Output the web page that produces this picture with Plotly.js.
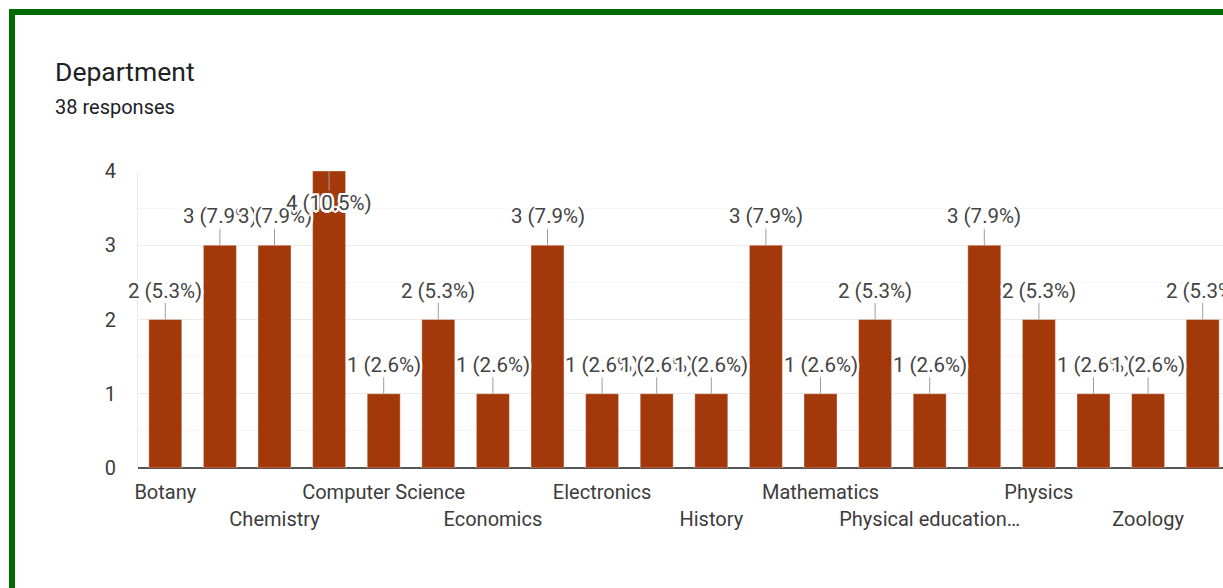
<!DOCTYPE html>
<html>
<head>
<meta charset="utf-8">
<script src="https://cdn.plot.ly/plotly-3.0.1.min.js"></script>
<style>
  html, body { margin: 0; padding: 0; background: #ffffff; overflow: hidden; width: 1223px; height: 588px; }
  #chart { position: absolute; left: 0; top: 0; }
  #frame { position: absolute; left: 9px; top: 9px; width: 1400px; height: 800px;
           border-left: 6px solid #006b00; border-top: 6px solid #006b00; pointer-events: none; z-index: 5; }
</style>
</head>
<body>
<div id="chart"></div>
<div id="frame"></div>
<script>
// ---- data ----
const chartTitle = "Department";
const responsesLabel = "38 responses";
// tick labels shown on the axis; "" = label not shown in the picture
const categories = ["Botany", "", "Chemistry", "", "Computer Science", "", "Economics", "",
                    "Electronics", "", "History", "", "Mathematics", "", "Physical education…", "",
                    "Physics", "", "Zoology", ""];
const counts = [2, 3, 3, 4, 1, 2, 1, 3, 1, 1, 1, 3, 1, 2, 1, 3, 2, 1, 1, 2];
const yTicks = [0, 1, 2, 3, 4];

// ---- build ----
const positions = counts.map((c, i) => i);
const total = counts.reduce((a, b) => a + b, 0);
const yMax = yTicks[yTicks.length - 1];

const W = 1240, H = 588;
const mL = 138, mT = 171, mB = 120, mR = 10;
const plotW = W - mL - mR, plotH = H - mT - mB;

const row1Vals = [], row1Text = [], row2Vals = [], row2Text = [];
let shown = 0;
categories.forEach((c, i) => {
  if (!c) return;
  if (shown % 2 === 0) { row1Vals.push(i); row1Text.push(c); }
  else { row2Vals.push(i); row2Text.push(c); }
  shown++;
});

const halo = "white 2.5px 0px 0px, white -2.5px 0px 0px, white 0px 2.5px 0px, white 0px -2.5px 0px, " +
             "white 1.8px 1.8px 0px, white -1.8px -1.8px 0px, white 1.8px -1.8px 0px, white -1.8px 1.8px 0px";

const fontFam = "Roboto, Arial, sans-serif";

const labelAnnotations = counts.map((v, i) => ({
  xref: "x", yref: "y", x: positions[i], y: v,
  text: v + " (" + (v / total * 100).toFixed(1) + "%)",
  showarrow: true, arrowhead: 0, arrowwidth: 1, arrowcolor: "#9e9e9e",
  standoff: 0, borderpad: 0, ax: 0, ay: v >= yMax ? 32 : -29,
  font: { family: fontFam, size: 20.5, color: "#444444", shadow: halo }
}));

const trace = {
  type: "bar",
  x: positions,
  y: counts,
  marker: { color: "#a3390b", line: { color: "rgba(255,255,255,0.35)", width: 1 } },
  hoverinfo: "skip"
};
const trace2 = { type: "bar", x: [], y: [], xaxis: "x2", yaxis: "y", showlegend: false, hoverinfo: "skip" };

const tickFont = { family: fontFam, size: 20, color: "#3c3c3c" };

const layout = {
  width: W, height: H,
  margin: { l: mL, r: mR, t: mT, b: mB, pad: 0 },
  paper_bgcolor: "rgba(0,0,0,0)", plot_bgcolor: "#ffffff",
  showlegend: false,
  bargap: 0.396,
  title: {
    text: chartTitle, xref: "container", yref: "container",
    x: 55 / W, xanchor: "left", y: 1 - 72 / H, yanchor: "middle",
    font: { family: fontFam, size: 26.5, color: "#202124" }
  },
  xaxis: {
    range: [-0.5, counts.length - 0.5], fixedrange: true,
    tickmode: "array", tickvals: row1Vals, ticktext: row1Text,
    ticks: "", showgrid: false, zeroline: false, showline: false,
    tickfont: tickFont, ticklabelstandoff: 10
  },
  xaxis2: {
    overlaying: "x", matches: "x", side: "bottom", anchor: "y",
    tickmode: "array", tickvals: row2Vals, ticktext: row2Text,
    ticks: "", showgrid: false, zeroline: false, showline: false,
    tickfont: tickFont, ticklabelstandoff: 37
  },
  yaxis: {
    range: [0, yMax], fixedrange: true,
    tickmode: "array", tickvals: yTicks, ticktext: yTicks.map(String),
    ticks: "", ticklabelstandoff: 17,
    tickfont: tickFont,
    showgrid: true, gridcolor: "#ebebeb", gridwidth: 1,
    minor: { dtick: 0.5, showgrid: true, gridcolor: "#f5f5f5", gridwidth: 1, ticks: "" },
    zeroline: true, zerolinecolor: "#555555", zerolinewidth: 2,
    showline: true, linecolor: "#ebebeb", linewidth: 1
  },
  annotations: [
    {
      xref: "paper", yref: "paper", x: (54 - mL) / plotW, y: (H - mB - 107) / plotH,
      xanchor: "left", yanchor: "middle", showarrow: false, text: responsesLabel, borderpad: 0,
      font: { family: fontFam, size: 20, color: "#202124" }
    }
  ].concat(labelAnnotations)
};

Plotly.newPlot("chart", [trace, trace2], layout, { displayModeBar: false, staticPlot: true });
</script>
</body>
</html>
